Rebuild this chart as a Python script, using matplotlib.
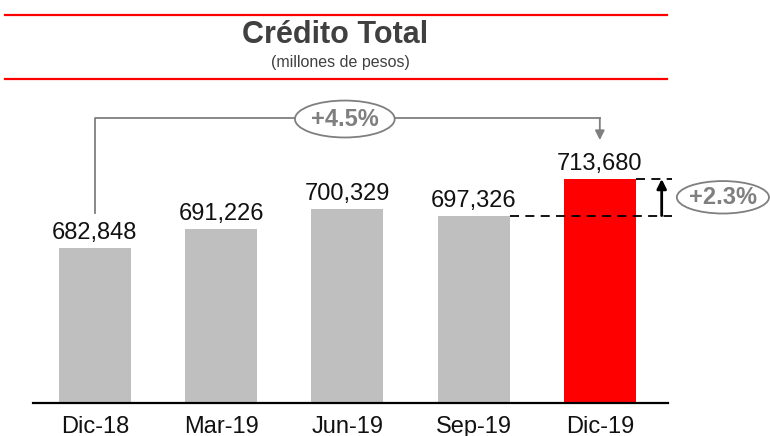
import numpy as np
import matplotlib
matplotlib.use("Agg")
from matplotlib import pyplot as plt
from matplotlib.patches import Ellipse
from matplotlib.lines import Line2D

plt.rcParams['font.family'] = ['Liberation Sans', 'DejaVu Sans']

# data
periods = ['Dic-18', 'Mar-19', 'Jun-19', 'Sep-19', 'Dic-19']
credito = [682848, 691226, 700329, 697326, 713680]
colors = ['#BFBFBF', '#BFBFBF', '#BFBFBF', '#BFBFBF', '#FF0000']
yoy_label = '+4.5%'
qoq_label = '+2.3%'

W, H = 770, 436
fig = plt.figure(figsize=(W / 100, H / 100), dpi=100)

# axes placed in pixel terms (left, bottom, width, height)
ax = fig.add_axes([33 / W, 1 - 403 / H, (668 - 33) / W, (403 - 90) / H])
x = np.arange(len(periods))
ax.bar(x, credito, width=0.57, color=colors, zorder=2)
ax.set_xlim(-0.49, 4.54)
ax.set_ylim(613588, 753445)

for xi, v in zip(x, credito):
    ax.text(xi, v + 1800, f'{v:,}', ha='center', va='bottom', fontsize=17, color='#111111')

for s in ['top', 'right', 'left']:
    ax.spines[s].set_visible(False)
ax.spines['bottom'].set_linewidth(1.6)
ax.set_yticks([])
ax.set_xticks(x)
ax.set_xticklabels(periods, fontsize=17, color='#111111')
ax.tick_params(axis='x', length=0, pad=9)

# +4.5% bracket from first to last bar
gray = '#7F7F7F'
y_top = max(credito) + 27300
ax.plot([x[0], x[0], x[-1]], [credito[0] + 15600, y_top, y_top], color=gray, lw=1.3,
        clip_on=False, zorder=3)
ax.annotate('', xy=(x[-1], max(credito) + 17400), xytext=(x[-1], y_top),
            arrowprops=dict(arrowstyle='-|>', color=gray, lw=1.3, mutation_scale=14,
                            shrinkA=0, shrinkB=0),
            annotation_clip=False)
ax.add_patch(Ellipse((1.98, y_top - 500), 0.79, 16500, facecolor='white', edgecolor=gray,
                     lw=1.3, clip_on=False, zorder=4))
ax.text(1.98, y_top - 500, yoy_label, ha='center', va='center', fontsize=17,
        fontweight='bold', color=gray, zorder=5)

# +2.3% dashed bracket between Sep-19 and Dic-19
x_end = 4.57
ax.plot([x[3] + 0.285, x_end], [credito[3], credito[3]], color='black', lw=1.3,
        ls=(0, (5, 3.5)), clip_on=False, zorder=3)
ax.plot([x[4] + 0.285, x_end], [credito[4], credito[4]], color='black', lw=1.3,
        ls=(0, (5, 3.5)), clip_on=False, zorder=3)
ax.annotate('', xy=(4.49, credito[4]), xytext=(4.49, credito[3]),
            arrowprops=dict(arrowstyle='-|>', color='black', lw=2, mutation_scale=14,
                            shrinkA=0, shrinkB=0),
            annotation_clip=False)
ax.add_patch(Ellipse((4.975, (credito[3] + credito[4]) / 2), 0.73, 14500, facecolor='white',
                     edgecolor=gray, lw=1.3, clip_on=False, zorder=4))
ax.text(4.975, (credito[3] + credito[4]) / 2, qoq_label, ha='center', va='center',
        fontsize=17, fontweight='bold', color=gray, zorder=5)

# title block with red rules
fig.add_artist(Line2D([5 / W, 667 / W], [1 - 15 / H, 1 - 15 / H], color='#FF0000', lw=1.6))
fig.add_artist(Line2D([5 / W, 667 / W], [1 - 79 / H, 1 - 79 / H], color='#FF0000', lw=1.6))
fig.text(335 / W, 1 - 35 / H, 'Crédito Total', ha='center', va='center', fontsize=22,
         fontweight='bold', color='#404040')
fig.text(340 / W, 1 - 62 / H, '(millones de pesos)', ha='center', va='center',
         fontsize=11.5, color='#404040')

fig.savefig('out.png', dpi=100)
